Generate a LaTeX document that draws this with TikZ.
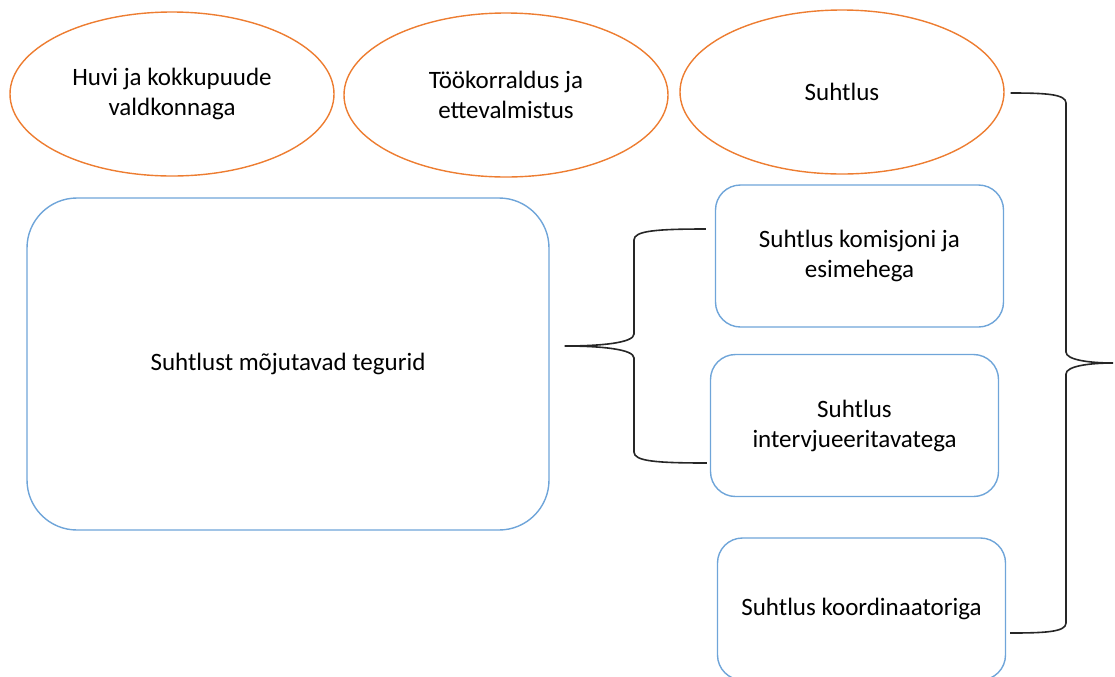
\documentclass[tikz,border=0pt]{standalone}
\usepackage{fontspec}
\setmainfont{Carlito}
\usepackage{tikz}
\usetikzlibrary{shapes.geometric,calc}
\definecolor{TopicOrange}{HTML}{ED7D31}
\definecolor{FactorBlue}{HTML}{6FA5D9}

\begin{document}
\begin{tikzpicture}[x=0.5pt,y=-0.5pt,
    font=\fontsize{12.5}{15}\selectfont,
    topic/.style={draw=TopicOrange,ellipse,line width=0.7pt,align=center,
      inner sep=0pt,minimum width=162pt,minimum height=82pt},
    factor/.style={draw=FactorBlue,line width=0.7pt,rounded corners=12.5pt,
      align=center,inner sep=0pt,minimum width=144pt,minimum height=71pt},
    brace/.style={draw=black!85,line width=0.8pt}]
    \useasboundingbox (0,0) rectangle (1115,676);

    % ellipses along the top
    \node[topic] (interest) at (172,94) {Huvi ja kokkupuude\\valdkonnaga};
    \node[topic] (work) at (506,95) {Töökorraldus ja\\ettevalmistus};
    \node[topic] (talk) at (842,92) {Suhtlus};

    % factors box and the three kinds of communication
    \node[factor,rounded corners=25pt,minimum width=261pt,minimum height=166pt]
      (factors) at (288,364) {Suhtlust mõjutavad tegurid};
    \node[factor] (board) at (859.5,256) {Suhtlus komisjoni ja\\esimehega};
    \node[factor] (people) at (854.5,425.5) {Suhtlus\\intervjueeritavatega};
    \node[factor] (coord) at (861.5,609) {Suhtlus koordinaatoriga};

    % left brace
    \coordinate (ltip) at ($(factors.east)+(15,-18)$);
    \coordinate (ltop) at ($(board.west)+(-9,-27)$);
    \coordinate (lbot) at ($(people.west)+(-3,37.5)$);
    \draw[brace] (ltop) .. controls (655,229) and (634,231) .. (634,240)
      -- (634,334) .. controls (634,343) and (600,346) .. (ltip)
      .. controls (600,346) and (634,349) .. (634,358)
      -- (634,452) .. controls (634,461) and (655,463) .. (lbot);

    % right brace
    \coordinate (rtop) at ($(talk.east)+(6,1)$);
    \coordinate (rtip) at (1113,363);
    \coordinate (rbot) at ($(coord.east)+(4,24)$);
    \draw[brace] (rtop) .. controls (1045,93) and (1066,94) .. (1066,103)
      -- (1066,352) .. controls (1066,360) and (1090,363) .. (rtip)
      .. controls (1090,363) and (1066,366) .. (1066,374)
      -- (1066,623) .. controls (1066,632) and (1045,633) .. (rbot);
  \end{tikzpicture}
\end{document}
